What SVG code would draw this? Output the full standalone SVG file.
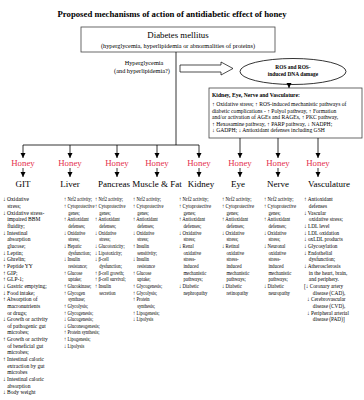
<svg xmlns="http://www.w3.org/2000/svg" width="364" height="400" viewBox="0 0 364 400">
<defs>
<marker id="ah" markerWidth="6" markerHeight="6" refX="5" refY="3" orient="auto" markerUnits="userSpaceOnUse">
<path d="M0,0.5 L5,3 L0,5.5 Z" fill="#000"/>
</marker>
<style>
text{font-family:"Liberation Serif","Times New Roman",serif;fill:#000}
.t{font-weight:bold;font-size:7.6px}
.c{font-size:6px}
.h{font-size:8.8px;fill:#e4304c}
.o{font-size:9px}
.k{font-size:5.6px}
.kb{font-size:5.6px;font-weight:bold}
.ln{stroke:#000;stroke-width:0.8;fill:none}
.bx{stroke:#444;stroke-width:0.8;fill:#fff}
</style>
</defs>
<rect width="364" height="400" fill="#fff"/>
<text class="t" x="172" y="17" text-anchor="middle" textLength="229" lengthAdjust="spacingAndGlyphs">Proposed mechanisms of action of antidiabetic effect of honey</text>

<g id="diabetes">
<rect class="bx" x="81" y="27" width="194" height="25"/>
<text x="178" y="38" text-anchor="middle" font-size="8.8">Diabetes mellitus</text>
<text x="178" y="47.5" text-anchor="middle" font-size="6.3">(hyperglycemia, hyperlipidemia or abnormalities of proteins)</text>
</g>

<g id="hyper">
<text x="144" y="65" text-anchor="middle" font-size="6.3">Hyperglycemia</text>
<text x="142" y="73" text-anchor="middle" font-size="6.3">(and hyperlipidemia?)</text>
</g>

<g id="ros">
<ellipse cx="293" cy="71.5" rx="53" ry="13" fill="#fff" stroke="#000" stroke-width="0.8"/>
<text x="293" y="69" text-anchor="middle" font-size="5.4" font-weight="bold">ROS and ROS-</text>
<text x="293" y="76" text-anchor="middle" font-size="5.4" font-weight="bold">induced DNA damage</text>
</g>

<g id="kenv">
<rect class="bx" x="209" y="88" width="153" height="50"/>
<text class="kb" x="212" y="97">Kidney, Eye, Nerve and Vasculature:</text>
<text class="k" x="212" y="106">↑ Oxidative stress; ↑ ROS-induced mechanistic pathways of</text>
<text class="k" x="212" y="112.5">diabetic complications - ↑ Polyol pathway, ↑ Formation</text>
<text class="k" x="212" y="119">and/or activation of AGEs and RAGEs, ↑ PKC pathway,</text>
<text class="k" x="212" y="125.5">↑ Hexosamine pathway, ↑ PARP pathway, ↓ NADPH;</text>
<text class="k" x="212" y="132">↓ GADPH; ↓ Antioxidant defenses including GSH</text>
</g>

<g id="connectors">
<polygon points="180,65 221,65 221,62 233,68.5 221,75 221,72 180,72" fill="#fff" stroke="#000" stroke-width="0.7"/>
<line class="ln" x1="176" y1="52" x2="176" y2="145"/>
<line class="ln" x1="23" y1="145" x2="199" y2="145"/>
<line class="ln" x1="289" y1="84.5" x2="289" y2="88" marker-end="url(#ah)"/>
<line class="ln" x1="23" y1="145" x2="23" y2="158" marker-end="url(#ah)"/>
<line class="ln" x1="70" y1="145" x2="70" y2="158" marker-end="url(#ah)"/>
<line class="ln" x1="117" y1="145" x2="117" y2="158" marker-end="url(#ah)"/>
<line class="ln" x1="157" y1="145" x2="157" y2="158" marker-end="url(#ah)"/>
<line class="ln" x1="199" y1="145" x2="199" y2="158" marker-end="url(#ah)"/>
<line class="ln" x1="240" y1="138" x2="240" y2="158" marker-end="url(#ah)"/>
<line class="ln" x1="278" y1="138" x2="278" y2="158" marker-end="url(#ah)"/>
<line class="ln" x1="318" y1="138" x2="318" y2="158" marker-end="url(#ah)"/>
<line class="ln" x1="23" y1="168" x2="23" y2="177" marker-end="url(#ah)"/>
<line class="ln" x1="70" y1="168" x2="70" y2="177" marker-end="url(#ah)"/>
<line class="ln" x1="117" y1="168" x2="117" y2="177" marker-end="url(#ah)"/>
<line class="ln" x1="157" y1="168" x2="157" y2="177" marker-end="url(#ah)"/>
<line class="ln" x1="199" y1="168" x2="199" y2="177" marker-end="url(#ah)"/>
<line class="ln" x1="240" y1="168" x2="240" y2="177" marker-end="url(#ah)"/>
<line class="ln" x1="278" y1="168" x2="278" y2="177" marker-end="url(#ah)"/>
<line class="ln" x1="318" y1="168" x2="318" y2="177" marker-end="url(#ah)"/>
</g>

<g id="honey">
<text class="h" x="23" y="166" text-anchor="middle">Honey</text>
<text class="h" x="70" y="166" text-anchor="middle">Honey</text>
<text class="h" x="117" y="166" text-anchor="middle">Honey</text>
<text class="h" x="157" y="166" text-anchor="middle">Honey</text>
<text class="h" x="199" y="166" text-anchor="middle">Honey</text>
<text class="h" x="240" y="166" text-anchor="middle">Honey</text>
<text class="h" x="278" y="166" text-anchor="middle">Honey</text>
<text class="h" x="318" y="166" text-anchor="middle">Honey</text>
</g>

<g id="organs">
<text class="o" x="23" y="187" text-anchor="middle">GIT</text>
<text class="o" x="70" y="187" text-anchor="middle">Liver</text>
<text class="o" x="114" y="187" text-anchor="middle">Pancreas</text>
<text class="o" x="157" y="187" text-anchor="middle">Muscle &amp; Fat</text>
<text class="o" x="201" y="187" text-anchor="middle">Kidney</text>
<text class="o" x="238" y="187" text-anchor="middle">Eye</text>
<text class="o" x="278" y="187" text-anchor="middle">Nerve</text>
<text class="o" x="308" y="187">Vasculature</text>
</g>

<g id="col-git" transform="matrix(0.92,0,0,1,0.24,0)">
<text class="c" y="201.5">
<tspan x="3">↓ Oxidative</tspan>
<tspan x="7.5" dy="6.65">stress;</tspan>
<tspan x="3" dy="6.65">↓ Oxidative stress-</tspan>
<tspan x="7.5" dy="6.65">impaired BBM</tspan>
<tspan x="7.5" dy="6.65">fluidity;</tspan>
<tspan x="3" dy="6.65">↓ Intestinal</tspan>
<tspan x="7.5" dy="6.65">absorption</tspan>
<tspan x="7.5" dy="6.65">glucose;</tspan>
<tspan x="3" dy="6.65">↓ Leptin;</tspan>
<tspan x="3" dy="6.65">↓ Ghrelin;</tspan>
<tspan x="3" dy="6.65">↑ Peptide YY</tspan>
<tspan x="3" dy="6.65">↑ GIP;</tspan>
<tspan x="3" dy="6.65">↑ GLP-1;</tspan>
<tspan x="3" dy="6.65">↓ Gastric emptying;</tspan>
<tspan x="3" dy="6.65">↓ Food intake;</tspan>
<tspan x="3" dy="6.65">↑ Absorption of</tspan>
<tspan x="7.5" dy="6.65">macronutrients</tspan>
<tspan x="7.5" dy="6.65">or drugs;</tspan>
<tspan x="3" dy="6.65">↓ Growth or activity</tspan>
<tspan x="7.5" dy="6.65">of pathogenic gut</tspan>
<tspan x="7.5" dy="6.65">microbes;</tspan>
<tspan x="3" dy="6.65">↑ Growth or activity</tspan>
<tspan x="7.5" dy="6.65">of beneficial gut</tspan>
<tspan x="7.5" dy="6.65">microbes;</tspan>
<tspan x="3" dy="6.65">↑ Intestinal caloric</tspan>
<tspan x="7.5" dy="6.65">extraction by gut</tspan>
<tspan x="7.5" dy="6.65">microbes</tspan>
<tspan x="3" dy="6.65">↓ Intestinal caloric</tspan>
<tspan x="7.5" dy="6.65">absorption</tspan>
<tspan x="3" dy="6.65">↓ Body weight</tspan>
</text>
</g>

<g id="col-liver" transform="matrix(0.76,0,0,1,15.36,0)">
<text class="c" y="201.5">
<tspan x="64">↑ Nrf2 activity;</tspan>
<tspan x="64" dy="6.65">↑ Cytoprotective</tspan>
<tspan x="69.5" dy="6.65">genes;</tspan>
<tspan x="64" dy="6.65">↑ Antioxidant</tspan>
<tspan x="69.5" dy="6.65">defenses;</tspan>
<tspan x="64" dy="6.65">↓ Oxidative</tspan>
<tspan x="69.5" dy="6.65">stress;</tspan>
<tspan x="64" dy="6.65">↓ Hepatic</tspan>
<tspan x="69.5" dy="6.65">dysfunction;</tspan>
<tspan x="64" dy="6.65">↓ Insulin</tspan>
<tspan x="69.5" dy="6.65">resistance;</tspan>
<tspan x="64" dy="6.65">↑ Glucose</tspan>
<tspan x="69.5" dy="6.65">uptake;</tspan>
<tspan x="64" dy="6.65">↑ Glucokinase;</tspan>
<tspan x="64" dy="6.65">↑ Glycogen</tspan>
<tspan x="69.5" dy="6.65">synthase;</tspan>
<tspan x="64" dy="6.65">↑ Glycolysis;</tspan>
<tspan x="64" dy="6.65">↑ Glycogenesis;</tspan>
<tspan x="64" dy="6.65">↓ Glucogenesis;</tspan>
<tspan x="64" dy="6.65">↓ Gluconeogenesis;</tspan>
<tspan x="64" dy="6.65">↑ Protein synthesis;</tspan>
<tspan x="64" dy="6.65">↑ Lipogenesis;</tspan>
<tspan x="64" dy="6.65">↓ Lipolysis</tspan>
</text>
</g>

<g id="col-pancreas" transform="matrix(0.76,0,0,1,22.8,0)">
<text class="c" y="201.5">
<tspan x="95">↑ Nrf2 activity;</tspan>
<tspan x="95" dy="6.65">↑ Cytoprotective</tspan>
<tspan x="100.5" dy="6.65">genes;</tspan>
<tspan x="95" dy="6.65">↑ Antioxidant</tspan>
<tspan x="100.5" dy="6.65">defenses;</tspan>
<tspan x="95" dy="6.65">↓ Oxidative</tspan>
<tspan x="100.5" dy="6.65">stress;</tspan>
<tspan x="95" dy="6.65">↓ Glucotoxicity;</tspan>
<tspan x="95" dy="6.65">↓ Lipotoxicity;</tspan>
<tspan x="95" dy="6.65">↓ β-cell</tspan>
<tspan x="100.5" dy="6.65">dysfunction;</tspan>
<tspan x="95" dy="6.65">↑ β-cell growth;</tspan>
<tspan x="95" dy="6.65">↑ β-cell survival;</tspan>
<tspan x="95" dy="6.65">↑ Insulin</tspan>
<tspan x="100.5" dy="6.65">secretion</tspan>
</text>
</g>

<g id="col-muscle" transform="matrix(0.76,0,0,1,31.92,0)">
<text class="c" y="201.5">
<tspan x="133">↑ Nrf2 activity;</tspan>
<tspan x="133" dy="6.65">↑ Cytoprotective</tspan>
<tspan x="138.5" dy="6.65">genes;</tspan>
<tspan x="133" dy="6.65">↑ Antioxidant</tspan>
<tspan x="138.5" dy="6.65">defenses;</tspan>
<tspan x="133" dy="6.65">↓ Oxidative</tspan>
<tspan x="138.5" dy="6.65">stress;</tspan>
<tspan x="133" dy="6.65">↑ Insulin</tspan>
<tspan x="138.5" dy="6.65">sensitivity;</tspan>
<tspan x="133" dy="6.65">↓ Insulin</tspan>
<tspan x="138.5" dy="6.65">resistance</tspan>
<tspan x="133" dy="6.65">↑ Glucose</tspan>
<tspan x="138.5" dy="6.65">uptake;</tspan>
<tspan x="133" dy="6.65">↑ Glycogenesis;</tspan>
<tspan x="133" dy="6.65">↑ Glycolysis;</tspan>
<tspan x="133" dy="6.65">↑ Protein</tspan>
<tspan x="138.5" dy="6.65">synthesis;</tspan>
<tspan x="133" dy="6.65">↑ Lipogenesis;</tspan>
<tspan x="133" dy="6.65">↓ Lipolysis</tspan>
</text>
</g>

<g id="col-kidney" transform="matrix(0.8,0,0,1,35.8,0)">
<text class="c" y="201.5">
<tspan x="179">↑ Nrf2 activity;</tspan>
<tspan x="179" dy="6.65">↑ Cytoprotective</tspan>
<tspan x="184.5" dy="6.65">genes;</tspan>
<tspan x="179" dy="6.65">↑ Antioxidant</tspan>
<tspan x="184.5" dy="6.65">defenses;</tspan>
<tspan x="179" dy="6.65">↓ Oxidative</tspan>
<tspan x="184.5" dy="6.65">stress;</tspan>
<tspan x="179" dy="6.65">↓ Renal</tspan>
<tspan x="184.5" dy="6.65">oxidative</tspan>
<tspan x="184.5" dy="6.65">stress-</tspan>
<tspan x="184.5" dy="6.65">induced</tspan>
<tspan x="184.5" dy="6.65">mechanistic</tspan>
<tspan x="184.5" dy="6.65">pathways;</tspan>
<tspan x="179" dy="6.65">↓ Diabetic</tspan>
<tspan x="184.5" dy="6.65">nephropathy</tspan>
</text>
</g>

<g id="col-eye" transform="matrix(0.8,0,0,1,44.4,0)">
<text class="c" y="201.5">
<tspan x="222">↑ Nrf2 activity;</tspan>
<tspan x="222" dy="6.65">↑ Cytoprotective</tspan>
<tspan x="227.5" dy="6.65">genes;</tspan>
<tspan x="222" dy="6.65">↑ Antioxidant</tspan>
<tspan x="227.5" dy="6.65">defenses;</tspan>
<tspan x="222" dy="6.65">↓ Oxidative</tspan>
<tspan x="227.5" dy="6.65">stress;</tspan>
<tspan x="222" dy="6.65">↓ Retinal</tspan>
<tspan x="227.5" dy="6.65">oxidative</tspan>
<tspan x="227.5" dy="6.65">stress-</tspan>
<tspan x="227.5" dy="6.65">induced</tspan>
<tspan x="227.5" dy="6.65">mechanistic</tspan>
<tspan x="227.5" dy="6.65">pathways;</tspan>
<tspan x="222" dy="6.65">↓ Diabetic</tspan>
<tspan x="227.5" dy="6.65">retinopathy</tspan>
</text>
</g>

<g id="col-nerve" transform="matrix(0.8,0,0,1,52.8,0)">
<text class="c" y="201.5">
<tspan x="264">↑ Nrf2 activity;</tspan>
<tspan x="264" dy="6.65">↑ Cytoprotective</tspan>
<tspan x="269.5" dy="6.65">genes;</tspan>
<tspan x="264" dy="6.65">↑ Antioxidant</tspan>
<tspan x="269.5" dy="6.65">defenses;</tspan>
<tspan x="264" dy="6.65">↓ Oxidative</tspan>
<tspan x="269.5" dy="6.65">stress;</tspan>
<tspan x="264" dy="6.65">↓ Neuronal</tspan>
<tspan x="269.5" dy="6.65">oxidative</tspan>
<tspan x="269.5" dy="6.65">stress-</tspan>
<tspan x="269.5" dy="6.65">induced</tspan>
<tspan x="269.5" dy="6.65">mechanistic</tspan>
<tspan x="269.5" dy="6.65">pathways;</tspan>
<tspan x="264" dy="6.65">↓ Diabetic</tspan>
<tspan x="269.5" dy="6.65">neuropathy</tspan>
</text>
</g>

<g id="col-vasculature" transform="matrix(0.88,0,0,1,36.48,0)">
<text class="c" y="201.5">
<tspan x="304">↑ Antioxidant</tspan>
<tspan x="309.5" dy="6.65">defenses</tspan>
<tspan x="304" dy="6.65">↓ Vascular</tspan>
<tspan x="309.5" dy="6.65">oxidative stress;</tspan>
<tspan x="304" dy="6.65">↓ LDL level</tspan>
<tspan x="304" dy="6.65">↓ LDL oxidation</tspan>
<tspan x="304" dy="6.65">↓ oxLDL products</tspan>
<tspan x="304" dy="6.65">↓ Glycosylation</tspan>
<tspan x="304" dy="6.65">↓ Endothelial</tspan>
<tspan x="309.5" dy="6.65">dysfunction;</tspan>
<tspan x="304" dy="6.65">↓ Atherosclerosis</tspan>
<tspan x="309.5" dy="6.65">in the heart, brain,</tspan>
<tspan x="309.5" dy="6.65">and periphery.</tspan>
<tspan x="304" dy="6.65">[↓ Coronary artery</tspan>
<tspan x="314" dy="6.65">disease (CAD),</tspan>
<tspan x="307.5" dy="6.65">↓ Cerebrovascular</tspan>
<tspan x="314" dy="6.65">disease (CVD),</tspan>
<tspan x="307.5" dy="6.65">↓ Peripheral arterial</tspan>
<tspan x="314" dy="6.65">disease (PAD)]</tspan>
</text>
</g>
</svg>
